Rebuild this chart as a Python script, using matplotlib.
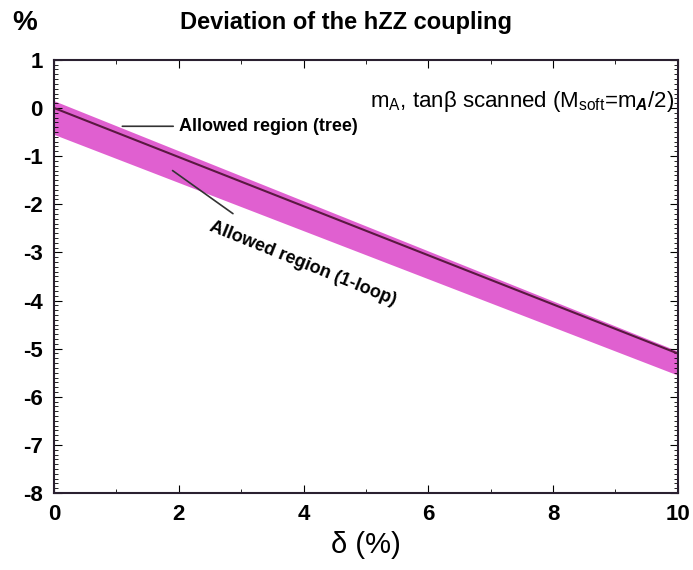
import matplotlib
matplotlib.use("Agg")
from matplotlib import pyplot as plt
from matplotlib.ticker import MultipleLocator

plt.rcParams["font.family"] = ["Liberation Sans", "DejaVu Sans"]
plt.rcParams["axes.unicode_minus"] = False
plt.rcParams["mathtext.fontset"] = "custom"
plt.rcParams["mathtext.rm"] = "Liberation Sans"
plt.rcParams["mathtext.it"] = "Liberation Sans:italic:bold"

# band of the 1-loop allowed region and tree line
delta = [0, 10]
band_top = [0.15, -5.05]
band_bottom = [-0.55, -5.55]
tree = [0.0, -5.1]

xticks = [0, 2, 4, 6, 8, 10]
yticks = [1, 0, -1, -2, -3, -4, -5, -6, -7, -8]

fig = plt.figure(figsize=(6.93, 5.70), dpi=100)
ax = fig.add_axes([0.078, 0.135, 0.9, 0.76])

ax.fill_between(delta, band_bottom, band_top, color="#e060d0", lw=0)
ax.plot(delta, tree, color="#5a1840", lw=1.5)

ax.set_xlim(0, 10)
ax.set_ylim(-8, 1)
ax.set_xticks(xticks)
ax.set_yticks(yticks)
ax.xaxis.set_minor_locator(MultipleLocator(1))
ax.yaxis.set_minor_locator(MultipleLocator(0.1))
ax.tick_params(which="both", direction="in", top=True, right=True, labelsize=16, pad=8)
ax.tick_params(which="major", length=6)
ax.tick_params(which="minor", length=3)
for lab in ax.get_xticklabels() + ax.get_yticklabels():
    lab.set_fontweight("bold")
for s in ax.spines.values():
    s.set_linewidth(1.5)
    s.set_color("#2a2030")

ax.set_xlabel("δ (%)", fontsize=21, labelpad=4)
fig.text(0.5, 0.96, "Deviation of the hZZ coupling", ha="center", va="center",
         fontsize=17, fontweight="bold")
fig.text(0.035, 0.96, "%", ha="center", va="center", fontsize=20, fontweight="bold")

ax.text(0.995, 0.905, r"m$_\mathrm{A}$, tanβ scanned (M$_\mathrm{soft}$=m$_A$/2)",
        transform=ax.transAxes, ha="right", va="center", fontsize=16)

ax.annotate("Allowed region (tree)", xy=(1.05, -0.38), xytext=(2.0, -0.38),
            fontsize=13, fontweight="bold", va="center",
            arrowprops=dict(arrowstyle="-", color="#333333", lw=1.2))
ax.annotate("Allowed region (1-loop)", xy=(1.9, -1.3), xytext=(2.5, -2.45),
            fontsize=13, fontweight="bold", rotation=-22, rotation_mode="anchor",
            ha="left", va="center",
            arrowprops=dict(arrowstyle="-", color="#333333", lw=1.2,
                            shrinkA=2, shrinkB=0))

fig.savefig("out.png", dpi=100)
